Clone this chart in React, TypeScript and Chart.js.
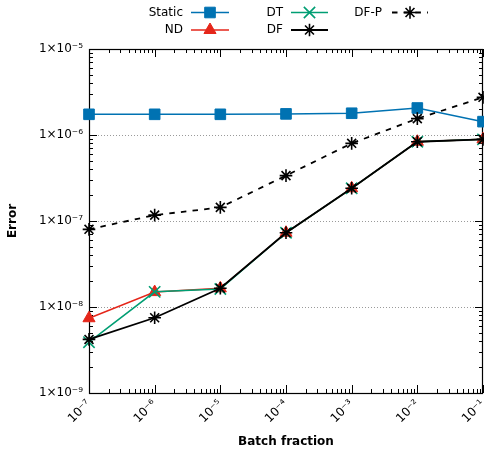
import React, { useEffect, useRef } from 'react';
import { Chart, registerables } from 'chart.js';
import { drawPoint } from 'chart.js/helpers';
Chart.register(...registerables);

const batchFractions = [1e-7, 1e-6, 1e-5, 1e-4, 1e-3, 1e-2, 1e-1];
const staticErr = [1.74e-6, 1.74e-6, 1.74e-6, 1.76e-6, 1.79e-6, 2.06e-6, 1.43e-6];
const ndErr = [7.4e-9, 1.49e-8, 1.65e-8, 7.3e-8, 2.4e-7, 8.35e-7, 8.9e-7];
const dtErr = [3.9e-9, 1.5e-8, 1.62e-8, 7.3e-8, 2.4e-7, 8.35e-7, 8.9e-7];
const dfErr = [4.2e-9, 7.5e-9, 1.65e-8, 7.3e-8, 2.4e-7, 8.35e-7, 8.9e-7];
const dfpErr = [8.0e-8, 1.17e-7, 1.44e-7, 3.37e-7, 8.0e-7, 1.55e-6, 2.74e-6];
const seriesNames = ['Static', 'ND', 'DT', 'DF', 'DF-P'];

const xTickValues = [1e-7, 1e-6, 1e-5, 1e-4, 1e-3, 1e-2, 1e-1];
const xTickLabels = ['10⁻⁷', '10⁻⁶', '10⁻⁵', '10⁻⁴', '10⁻³', '10⁻²', '10⁻¹'];
const yTickValues = [1e-9, 1e-8, 1e-7, 1e-6, 1e-5];
const yTickLabels = ['1×10⁻⁹', '1×10⁻⁸', '1×10⁻⁷', '1×10⁻⁶', '1×10⁻⁵'];

const FONT = "'DejaVu Sans', sans-serif";
const BLUE = '#0072b2';
const RED = '#e5261a';
const GREEN = '#009e73';
const BLACK = '#000000';

const toPts = (ys: number[]) => batchFractions.map((x, i) => ({ x, y: ys[i] }));

// legend layout: [textRightX, rowY, sampleStart, sampleEnd]
const legendSlots = [
  [183, 12.5, 191, 229],
  [183, 30, 191, 229],
  [283, 12.5, 291, 328],
  [283, 30, 291, 328],
  [382, 12.5, 392, 428],
];

const framePlugin = {
  id: 'frame',
  beforeDatasetsDraw(chart: any) {
    const { ctx, chartArea: a, scales } = chart;
    const xs = scales.x, ys = scales.y;
    ctx.save();
    ctx.strokeStyle = '#9a9a9a';
    ctx.lineWidth = 1;
    ctx.setLineDash([1, 2]);
    yTickValues.slice(1, -1).forEach((v) => {
      const y = Math.round(ys.getPixelForValue(v)) + 0.5;
      ctx.beginPath();
      ctx.moveTo(a.left, y);
      ctx.lineTo(a.right, y);
      ctx.stroke();
    });
    ctx.setLineDash([]);
    ctx.strokeStyle = '#000';
    const tick = (x1: number, y1: number, x2: number, y2: number) => {
      ctx.beginPath();
      ctx.moveTo(x1, y1);
      ctx.lineTo(x2, y2);
      ctx.stroke();
    };
    for (let d = -7; d <= -1; d++) {
      for (let m = 1; m <= 9; m++) {
        const v = m * Math.pow(10, d);
        if (v > 1e-1 * 1.0001) break;
        const x = Math.round(xs.getPixelForValue(v)) + 0.5;
        const len = m === 1 ? 8 : 4;
        tick(x, a.bottom, x, a.bottom - len);
        tick(x, a.top, x, a.top + len);
      }
    }
    for (let d = -9; d <= -5; d++) {
      for (let m = 1; m <= 9; m++) {
        const v = m * Math.pow(10, d);
        if (v > 1e-5 * 1.0001) break;
        const y = Math.round(ys.getPixelForValue(v)) + 0.5;
        const len = m === 1 ? 8 : 4;
        tick(a.left, y, a.left + len, y);
        tick(a.right, y, a.right - len, y);
      }
    }
    ctx.lineWidth = 1.2;
    ctx.strokeRect(a.left + 0.5, a.top + 0.5, a.right - a.left - 1, a.bottom - a.top);
    ctx.restore();
  },
  afterDraw(chart: any) {
    const { ctx } = chart;
    ctx.save();
    ctx.font = `12px ${FONT}`;
    ctx.textAlign = 'right';
    ctx.textBaseline = 'middle';
    chart.data.datasets.forEach((ds: any, i: number) => {
      const [tx, ty, s0, s1] = legendSlots[i];
      ctx.fillStyle = '#000';
      ctx.fillText(ds.label, tx, ty);
      ctx.strokeStyle = ds.borderColor;
      ctx.lineWidth = ds.borderWidth;
      ctx.setLineDash(ds.borderDash || []);
      ctx.beginPath();
      ctx.moveTo(s0, ty);
      ctx.lineTo(s1, ty);
      ctx.stroke();
      ctx.setLineDash([]);
      ctx.fillStyle = ds.pointBackgroundColor;
      ctx.strokeStyle = ds.pointBorderColor;
      ctx.lineWidth = ds.pointBorderWidth;
      drawPoint(ctx, { pointStyle: ds.pointStyle, radius: ds.pointRadius, rotation: 0, borderWidth: ds.pointBorderWidth }, (s0 + s1) / 2, ty);
    });
    ctx.restore();
  },
};

export default function App() {
  const ref = useRef<HTMLCanvasElement>(null);
  useEffect(() => {
    if (!ref.current) return;
    const mk = (label: string, ys: number[], color: string, style: string, radius: number, lw: number, order: number, extra: any = {}) => ({
      label,
      data: toPts(ys),
      borderColor: color,
      backgroundColor: color,
      pointBackgroundColor: color,
      pointBorderColor: color,
      pointStyle: style,
      pointRadius: radius,
      pointBorderWidth: style === 'rect' || style === 'triangle' ? 1 : 1.6,
      borderWidth: lw,
      tension: 0,
      clip: false,
      order,
      ...extra,
    });
    const chart = new Chart(ref.current, {
      type: 'line',
      data: {
        datasets: [
          mk(seriesNames[0], staticErr, BLUE, 'rect', 7.5, 1.5, 4),
          mk(seriesNames[1], ndErr, RED, 'triangle', 7, 1.5, 3),
          mk(seriesNames[2], dtErr, GREEN, 'crossRot', 8, 1.5, 2),
          mk(seriesNames[3], dfErr, BLACK, 'star', 6.3, 1.8, 1),
          mk(seriesNames[4], dfpErr, BLACK, 'star', 6.3, 1.8, 0, { borderDash: [5.5, 6.2] }),
        ],
      },
      options: {
        animation: false,
        responsive: false,
        maintainAspectRatio: false,
        layout: { autoPadding: false, padding: { top: 49, right: 1, left: 0, bottom: 0 } },
        plugins: { legend: { display: false }, tooltip: { enabled: false } },
        scales: {
          x: {
            type: 'logarithmic',
            min: 1e-7,
            max: 1e-1,
            grid: { display: false, drawTicks: false },
            border: { display: false },
            afterBuildTicks: (s: any) => {
              s.ticks = xTickValues.map((v) => ({ value: v }));
            },
            afterFit: (s: any) => {
              s.height = 62;
              s.paddingLeft = 0;
              s.paddingRight = 0;
            },
            ticks: {
              autoSkip: false,
              minRotation: 45,
              maxRotation: 45,
              padding: 4,
              color: '#000',
              font: { family: FONT, size: 12 },
              callback: (_v: any, i: number) => xTickLabels[i],
            },
            title: {
              display: true,
              text: 'Batch fraction',
              color: '#000',
              font: { family: FONT, size: 12, weight: 'bold' },
              padding: { top: 0, bottom: 6 },
            },
          },
          y: {
            type: 'logarithmic',
            min: 1e-9,
            max: 1e-5,
            grid: { display: false, drawTicks: false },
            border: { display: false },
            afterBuildTicks: (s: any) => {
              s.ticks = yTickValues.map((v) => ({ value: v }));
            },
            afterFit: (s: any) => {
              s.width = 89;
            },
            ticks: {
              autoSkip: false,
              padding: 6,
              color: '#000',
              font: { family: FONT, size: 12 },
              callback: (_v: any, i: number) => yTickLabels[i],
            },
            title: {
              display: true,
              text: 'Error',
              color: '#000',
              font: { family: FONT, size: 12, weight: 'bold' },
              padding: { top: 6, bottom: 0 },
            },
          },
        },
      } as any,
      plugins: [framePlugin],
    });
    return () => chart.destroy();
  }, []);
  return (
    <div style={{ position: 'absolute', left: 0, top: 0, width: 484, height: 455, background: '#fff' }}>
      <canvas ref={ref} width={484} height={455} style={{ width: 484, height: 455 }} />
    </div>
  );
}
